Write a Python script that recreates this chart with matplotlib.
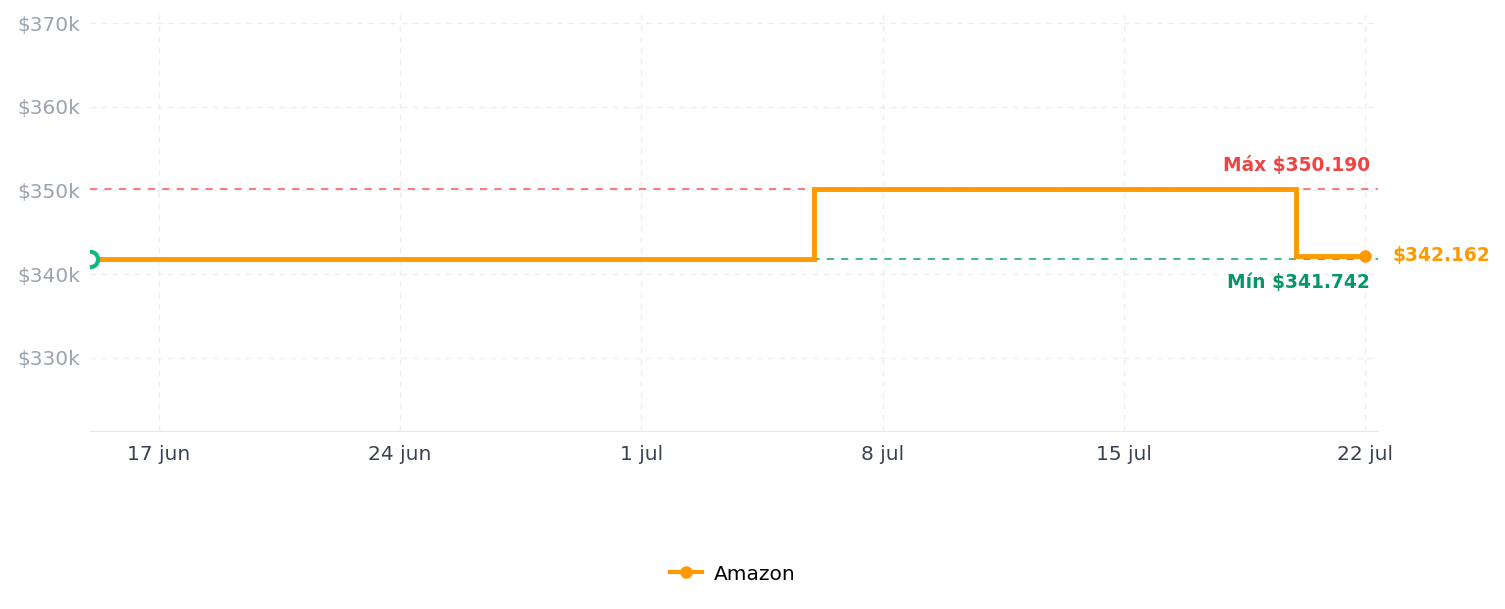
import numpy as np
import pandas as pd
import matplotlib
matplotlib.use("Agg")
import matplotlib.pyplot as plt
import matplotlib.dates as mdates
from matplotlib.ticker import FuncFormatter

# price history (step changes)
dates = pd.to_datetime(["2024-06-15", "2024-07-06", "2024-07-20", "2024-07-22"])
prices = [341742, 350190, 342162, 342162]
store = "Amazon"
tick_dates = pd.to_datetime(["2024-06-17", "2024-06-24", "2024-07-01",
                             "2024-07-08", "2024-07-15", "2024-07-22"])
tick_labels = ["17 jun", "24 jun", "1 jul", "8 jul", "15 jul", "22 jul"]
y_ticks = [330000, 340000, 350000, 360000, 370000]

orange = "#ff9900"
red = "#ef4444"
green = "#059669"

def money(v):
    return "$" + f"{v:,.0f}".replace(",", ".")

pmax = max(prices)
pmin = min(prices)
plast = prices[-1]

fig = plt.figure(figsize=(15.05, 6.09), dpi=100)
ax = fig.add_axes([90 / 1505, 1 - 431 / 609, 1288 / 1505, 418 / 609])

ax.axhline(pmax, color="#f87171", lw=1.3, ls=(0, (4, 4)), zorder=2)
ax.axhline(pmin, color="#34b38a", lw=1.3, ls=(0, (4, 4)), zorder=2)

ax.plot(dates, prices, drawstyle="steps-post", color=orange, lw=3.5,
        zorder=3, solid_joinstyle="miter")
ax.plot(dates[-1], plast, "o", color=orange, ms=8, zorder=4)
ax.plot(dates[0], prices[0], "o", mfc="white", mec="#10b981", mew=3, ms=11,
        zorder=5)
# legend handle
ax.plot([], [], "-o", color=orange, lw=3, ms=8, label=store)

ax.set_xlim(pd.Timestamp("2024-06-15"), pd.Timestamp("2024-07-22 09:00"))
ax.set_ylim(pmin * 0.94, pmax * 1.06)

ax.set_xticks(tick_dates)
ax.set_xticklabels(tick_labels)
ax.set_yticks(y_ticks)
ax.yaxis.set_major_formatter(FuncFormatter(lambda v, p: f"${v / 1000:.0f}k"))

ax.grid(True, color="#ebedf0", ls=(0, (4, 4)), lw=1)
ax.set_axisbelow(True)
for s in ["top", "right", "left"]:
    ax.spines[s].set_visible(False)
ax.spines["bottom"].set_color("#e5e7eb")
ax.tick_params(axis="y", length=0, pad=7, labelsize=14.5, labelcolor="#9ca3af")
ax.tick_params(axis="x", length=0, pad=10, labelsize=14.5, labelcolor="#374151")

ax.annotate("Máx " + money(pmax), xy=(1, pmax), xycoords=("axes fraction", "data"),
            xytext=(-6, 10), textcoords="offset points", ha="right", va="bottom",
            color=red, fontsize=13.4, fontweight="bold")
ax.annotate("Mín " + money(pmin), xy=(1, pmin), xycoords=("axes fraction", "data"),
            xytext=(-6, -10), textcoords="offset points", ha="right", va="top",
            color=green, fontsize=13.4, fontweight="bold")
ax.annotate(money(plast), xy=(dates[-1], plast), xytext=(20, 0),
            textcoords="offset points", ha="left", va="center",
            color=orange, fontsize=13.4, fontweight="bold", annotation_clip=False)

fig.legend(loc="center", bbox_to_anchor=(733 / 1505, 1 - 574 / 609), frameon=False,
           fontsize=14.5, handlelength=1.6, handletextpad=0.6)

fig.savefig("out.png", dpi=100)
